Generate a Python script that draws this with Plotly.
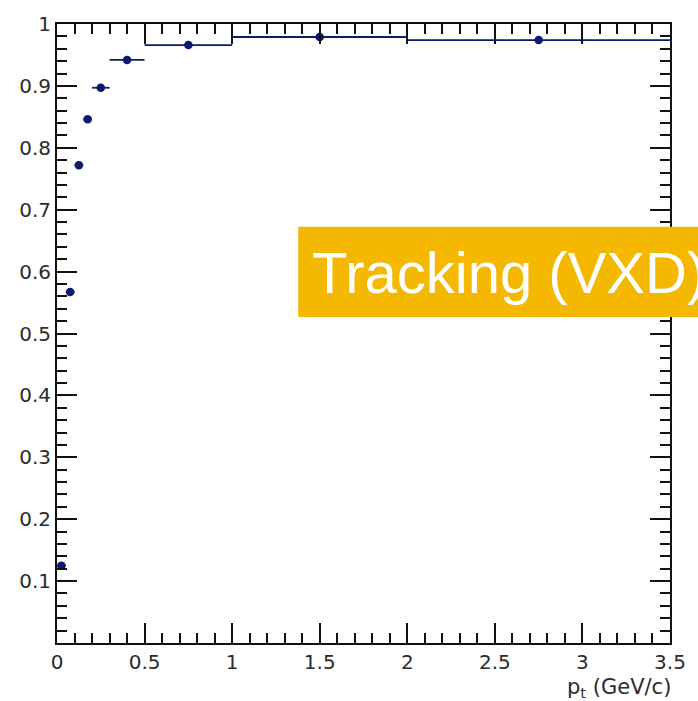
import plotly.graph_objects as go

# Tracking efficiency vs transverse momentum
pt_centers = [0.025, 0.075, 0.125, 0.175, 0.25, 0.4, 0.75, 1.5, 2.75]
pt_halfwidths = [0.025, 0.025, 0.025, 0.025, 0.05, 0.1, 0.25, 0.5, 0.75]
efficiency = [0.125, 0.567, 0.772, 0.846, 0.897, 0.942, 0.966, 0.979, 0.974]

y_tickvals = [0.1, 0.2, 0.3, 0.4, 0.5, 0.6, 0.7, 0.8, 0.9, 1.0]
y_ticktext = ["0.1", "0.2", "0.3", "0.4", "0.5", "0.6", "0.7", "0.8", "0.9", "1"]
x_tickvals = [0, 0.5, 1, 1.5, 2, 2.5, 3, 3.5]
x_ticktext = ["0", "0.5", "1", "1.5", "2", "2.5", "3", "3.5"]

navy = "#0b1a6e"
label_font = "DejaVu Sans, sans-serif"
banner_font = "Liberation Sans, Arial, sans-serif"

fig = go.Figure()
fig.add_trace(go.Scatter(
    x=pt_centers,
    y=efficiency,
    mode="markers",
    marker=dict(color=navy, size=8.5),
    error_x=dict(type="data", array=pt_halfwidths, color=navy,
                 thickness=1.8, width=0),
    showlegend=False,
))

axis_common = dict(
    showline=True, linecolor="#111", linewidth=1.8, mirror="ticks",
    ticks="inside", ticklen=20, tickwidth=1.5, tickcolor="#111",
    showgrid=False, zeroline=False,
    tickfont=dict(family=label_font, size=20, color="#2b2b2b"),
)

fig.update_xaxes(
    range=[0, 3.5], tickvals=x_tickvals, ticktext=x_ticktext,
    minor=dict(dtick=0.1, tick0=0, ticks="inside", ticklen=10,
               tickwidth=1.5, tickcolor="#111", showgrid=False),
    **axis_common,
)
fig.update_yaxes(
    range=[0, 1], tickvals=y_tickvals, ticktext=y_ticktext,
    minor=dict(dtick=0.02, tick0=0, ticks="inside", ticklen=10,
               tickwidth=1.5, tickcolor="#111", showgrid=False),
    **axis_common,
)

fig.add_annotation(
    xref="paper", yref="paper", x=1.005, y=-0.072,
    xanchor="right", yanchor="middle", showarrow=False,
    text="p<sub>t</sub> (GeV/c)",
    font=dict(family=label_font, size=21, color="#2b2b2b"),
)

# Orange title banner, running off the right edge
fig.add_shape(
    type="rect", xref="paper", yref="paper",
    x0=(301 - 57) / 620, x1=1.2, y0=(643 - 315) / 623, y1=(643 - 224) / 623,
    fillcolor="#F5B800", line=dict(width=0), layer="above",
)
fig.add_annotation(
    xref="paper", yref="paper", x=(313 - 57) / 620, y=(643 - 270) / 623,
    xanchor="left", yanchor="middle", showarrow=False,
    text="Tracking (VXD)",
    font=dict(family=banner_font, size=58, color="white"),
)

fig.update_layout(
    width=698, height=701,
    margin=dict(l=57, r=21, t=20, b=58),
    paper_bgcolor="white", plot_bgcolor="white",
)

fig.write_html("out.html")
